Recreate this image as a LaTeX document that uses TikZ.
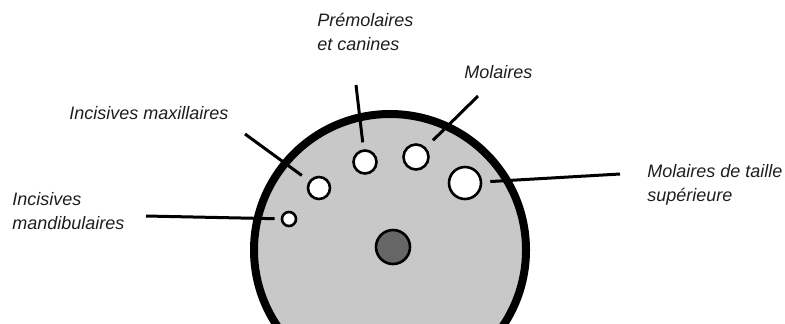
\documentclass[tikz,border=0pt]{standalone}
\usepackage{fontspec}
\setmainfont{Liberation Sans}
\usetikzlibrary{calc, positioning}
\definecolor{discbg}{HTML}{C8C8C8}
\definecolor{canaldark}{HTML}{666666}
\definecolor{txtgray}{HTML}{1E1E1E}
\tikzset{
  % disque principal
  disc/.style={circle, draw=black, line width=4pt, fill=discbg, minimum size=272pt*0.5,
    inner sep=0pt},
  % trou (canal) blanc
  hole/.style={circle, draw=black, line width=1.3pt, fill=white, inner sep=0pt},
  holedark/.style={circle, draw=black, line width=1.3pt, fill=canaldark, inner sep=0pt},
  % trait de rappel
  pointer/.style={line width=1.5pt, black},
  % etiquettes
  lbl/.style={font=\itshape\fontsize{9}{12.2}\selectfont, text=txtgray, align=left,
    inner sep=0pt, anchor=west},
}
\begin{document}
\begin{tikzpicture}[x=0.5pt, y=-0.5pt]
  \useasboundingbox (0,0) rectangle (785,323);
  \clip (0,0) rectangle (785,323);
  % disque et trous
  \node[disc] (disc) at (390,250) {};
  \node[hole, minimum size=7pt] (hmand) at (289,219) {};
  \node[hole, minimum size=11pt] (hmax) at (319,188) {};
  \node[hole, minimum size=11.5pt] (hprem) at (365,162) {};
  \node[hole, minimum size=12.5pt] (hmol) at (416,157) {};
  \node[hole, minimum size=16pt] (hbig) at (465,183) {};
  \node[holedark, minimum size=17pt] (hcenter) at (393,247) {};
  % etiquettes
  \node[lbl] (lmand) at (12,211) {Incisives\\mandibulaires};
  \node[lbl] (lmax) at (69,113) {Incisives maxillaires};
  \node[lbl] (lprem) at (317,32) {Prémolaires\\et canines};
  \node[lbl] (lmol) at (464,72) {Molaires};
  \node[lbl] (lbig) at (647,185) {Molaires de taille\\supérieure};
  % traits de rappel
  \coordinate (cmand) at (146,216);
  \coordinate (cmax) at (245,134);
  \coordinate (cprem) at (356,85);
  \coordinate (cmol) at (478,96);
  \coordinate (cbig) at (620,174);
  \draw[pointer, shorten >=3pt] (cmand) -- (hmand);
  \draw[pointer, shorten >=4.5pt] (cmax) -- (hmax);
  \draw[pointer, shorten >=3.5pt] (cprem) -- (hprem);
  \draw[pointer, shorten >=5pt] (cmol) -- (hmol);
  \draw[pointer, shorten >=4pt] (cbig) -- (hbig);
\end{tikzpicture}
\end{document}
